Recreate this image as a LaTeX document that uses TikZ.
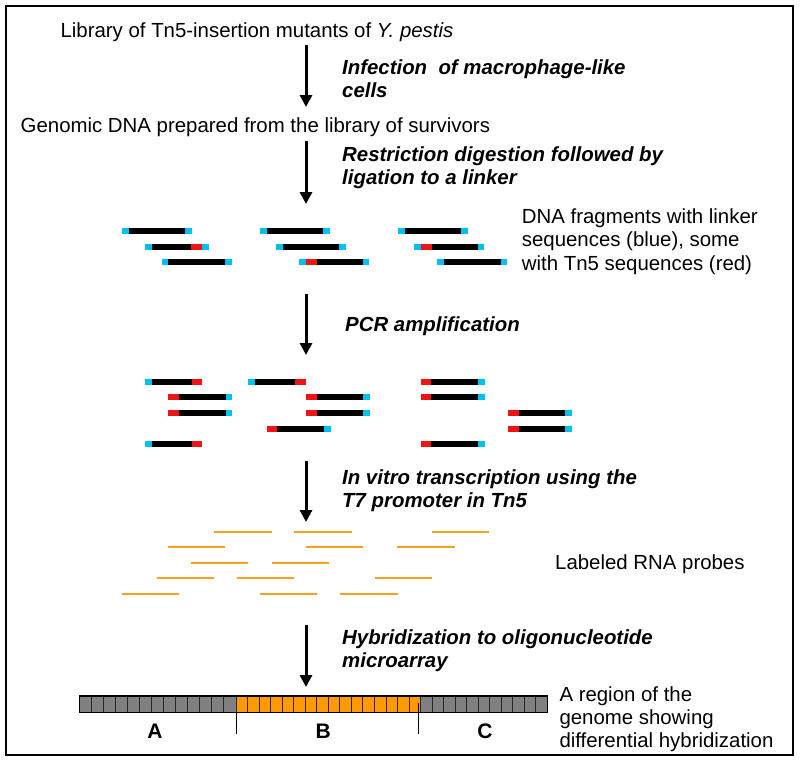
\documentclass[tikz,border=0pt]{standalone}
\usepackage{fontspec}
\setmainfont{Liberation Sans}
\usetikzlibrary{arrows.meta}
\definecolor{linkc}{RGB}{0,191,243}
\definecolor{tnred}{RGB}{240,20,20}
\definecolor{probec}{RGB}{250,160,30}
\definecolor{arrorange}{RGB}{255,153,0}
\definecolor{cellgray}{RGB}{128,128,128}
\newcommand{\dseg}[4]{\fill[#1] (#2,#3-3) rectangle (#4,#3+3);}
\newcommand{\fCC}[2]{\dseg{linkc}{#1}{#2}{#1+70}\dseg{black}{#1+6.7}{#2}{#1+63.3}}
\newcommand{\fCBRC}[2]{\dseg{linkc}{#1}{#2}{#1+64}\dseg{black}{#1+6.7}{#2}{#1+46}\dseg{tnred}{#1+46}{#2}{#1+57.3}}
\newcommand{\fCRBC}[2]{\dseg{linkc}{#1}{#2}{#1+70}\dseg{tnred}{#1+6.7}{#2}{#1+17.4}\dseg{black}{#1+17.4}{#2}{#1+63.3}}
\newcommand{\fCBR}[2]{\dseg{linkc}{#1}{#2}{#1+6.7}\dseg{black}{#1+6.7}{#2}{#1+46.7}\dseg{tnred}{#1+46.7}{#2}{#1+57.4}}
\newcommand{\fRBC}[2]{\dseg{tnred}{#1}{#2}{#1+10.7}\dseg{black}{#1+10.7}{#2}{#1+57.4}\dseg{linkc}{#1+57.4}{#2}{#1+64}}
\newcommand{\probe}[2]{\draw[probec,line width=2pt] (#1,#2) -- ++(57.4,0);}
\begin{document}
\begin{tikzpicture}[x=1pt,y=-1pt,
  txt/.style={font=\fontsize{20.4}{23}\selectfont, inner sep=0pt, anchor=base west},
  lab/.style={txt, font=\fontsize{20.4}{23}\selectfont\bfseries\itshape},
  abc/.style={font=\fontsize{21}{24}\selectfont\bfseries, inner sep=0pt, anchor=base},
  flowarrow/.style={line width=3pt, -{Triangle[width=12pt,length=12pt]}},
  cell/.style={draw=black!85, line width=1pt}]
\useasboundingbox (0,0) rectangle (800,763);
\draw[line width=2pt] (6,6) rectangle (793.3,755.3);

% texts
\node[txt] (lib) at (60.4,37.5) {Library of Tn5-insertion mutants of \textit{Y. pestis}};
\node[lab] (inf1) at (342,74) {Infection\ \ of macrophage-like};
\node[lab] (inf2) at (342,97) {cells};
\node[txt] (gen) at (20.5,132.7) {Genomic DNA prepared from the library of survivors};
\node[lab] (res1) at (342,161) {Restriction digestion followed by};
\node[lab] (res2) at (342,184) {ligation to a linker};
\node[txt] (dna1) at (521.7,223) {DNA fragments with linker};
\node[txt] (dna2) at (521.7,246.5) {sequences (blue), some};
\node[txt] (dna3) at (521.7,270) {with Tn5 sequences (red)};
\node[lab] (pcr) at (345,331.5) {PCR amplification};
\node[lab] (ivt1) at (342,484) {In vitro transcription using the};
\node[lab] (ivt2) at (342,507) {T7 promoter in Tn5};
\node[txt] (rna) at (555,569) {Labeled RNA probes};
\node[lab] (hyb1) at (342,644) {Hybridization to oligonucleotide};
\node[lab] (hyb2) at (342,667) {microarray};
\node[txt] (reg1) at (559.3,701) {A region of the};
\node[txt] (reg2) at (559.3,724) {genome showing};
\node[txt] (reg3) at (559.3,747) {differential hybridization};

% arrows
\coordinate (a1s) at (306,45);  \coordinate (a1e) at (306,107);
\coordinate (a2s) at (306,141); \coordinate (a2e) at (306,204);
\coordinate (a3s) at (306,294); \coordinate (a3e) at (306,355);
\coordinate (a4s) at (306,461); \coordinate (a4e) at (306,522);
\coordinate (a5s) at (306,625); \coordinate (a5e) at (306,687);
\draw[flowarrow] (a1s) -- (a1e);
\draw[flowarrow] (a2s) -- (a2e);
\draw[flowarrow] (a3s) -- (a3e);
\draw[flowarrow] (a4s) -- (a4e);
\draw[flowarrow] (a5s) -- (a5e);

% DNA fragments with linkers
\fCC{122}{231}\fCC{260}{231}\fCC{398}{231}
\fCBRC{145}{246.7}\fCC{276}{246.7}\fCRBC{414.3}{246.7}
\fCC{161.7}{262.3}\fCRBC{299.3}{262.3}\fCC{437.3}{262.3}

% PCR products
\fCBR{145}{382}\fCBR{248.3}{382}\fRBC{420.7}{382}
\fRBC{168.3}{397.3}\fRBC{306}{397.3}\fRBC{420.7}{397.3}
\fRBC{168.3}{412.7}\fRBC{306}{412.7}\fRBC{508}{412.7}
\fRBC{266.7}{428.7}\fRBC{508}{428.7}
\fCBR{145}{443.7}\fRBC{420.7}{443.7}

% RNA probes
\probe{214.3}{531.7}\probe{294.3}{531.7}\probe{432}{531.7}
\probe{168}{547}\probe{306}{547}\probe{397.3}{547}
\probe{191}{562.7}\probe{271.7}{562.7}
\probe{156.7}{578.3}\probe{237}{578.3}\probe{374.7}{578.3}
\probe{122}{594}\probe{260}{594}\probe{340.3}{593.7}

% microarray
\foreach \i in {0,...,12} \draw[cell,fill=cellgray] ({79.3+\i*12.054},696) rectangle ++(12.054,16.7);
\foreach \i in {0,...,15} \draw[cell,fill=arrorange] ({236+\i*11.544},696) rectangle ++(11.544,16.7);
\foreach \i in {0,...,10} \draw[cell,fill=cellgray] ({420.7+\i*11.51},696) rectangle ++(11.51,16.7);
\draw[line width=1.2pt] (79.3,696) rectangle (547.3,712.7);
\draw[line width=1pt] (236,712.7) -- (236,734);
\draw[line width=1pt] (418.7,703) -- (418.7,734);
\node[abc] (la) at (155,738) {A};
\node[abc] (lb) at (323.3,738) {B};
\node[abc] (lc) at (485,738) {C};
\end{tikzpicture}
\end{document}
